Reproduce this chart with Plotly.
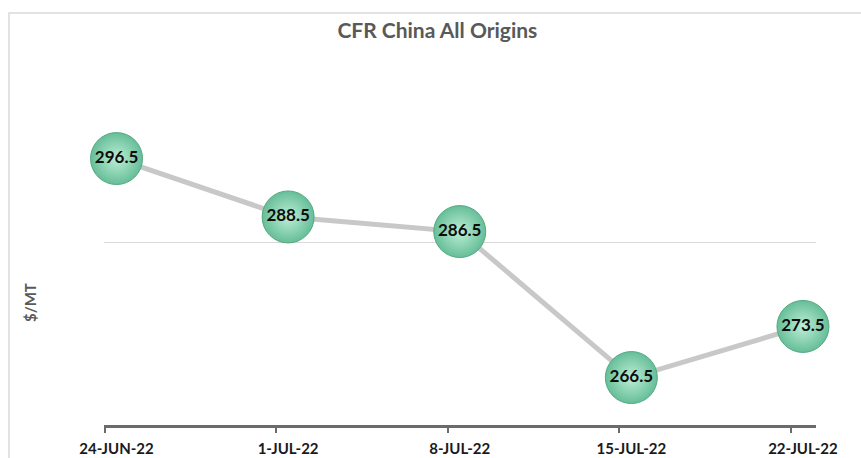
import plotly.graph_objects as go

# Weekly CFR China price (all origins), $/MT
dates = ["24-JUN-22", "1-JUL-22", "8-JUL-22", "15-JUL-22", "22-JUL-22"]
prices = [296.5, 288.5, 286.5, 266.5, 273.5]

y_range = [260, 310]
grid_values = [285]

positions = list(range(len(dates)))
tick_offset = 0.07  # ticks sit slightly left of each category

fig = go.Figure()

fig.add_trace(go.Scatter(
    x=positions,
    y=prices,
    mode="lines+markers+text",
    text=[f"{p:.1f}" for p in prices],
    textposition="middle center",
    textfont=dict(family="Lato", size=17, color="#0d0d0d", weight="bold"),
    line=dict(color="#c8c8c8", width=5),
    marker=dict(
        size=52,
        color="#66be98",
        gradient=dict(type="radial", color="#bdeed7"),
        line=dict(color="#55a884", width=1),
    ),
    cliponaxis=False,
    hoverinfo="skip",
    showlegend=False,
))

fig.update_layout(
    width=861,
    height=458,
    margin=dict(l=104, r=45, t=60, b=33),
    paper_bgcolor="white",
    plot_bgcolor="white",
    title=dict(
        text="CFR China All Origins",
        x=0.508, xanchor="center",
        y=0.932, yanchor="middle",
        font=dict(family="Lato", size=21, color="#595959", weight="bold"),
    ),
    xaxis=dict(
        range=[-0.073, 4.076],
        tickmode="array",
        tickvals=[p - tick_offset for p in positions],
        ticktext=dates,
        ticklabelshift=12,
        ticklabelstandoff=3,
        ticks="outside",
        ticklen=5,
        tickwidth=2,
        tickcolor="#6b6b6b",
        showline=True,
        linecolor="#6b6b6b",
        linewidth=2.5,
        showgrid=False,
        zeroline=False,
        automargin=False,
        tickfont=dict(family="Lato", size=15, color="#1a1a1a", weight="bold"),
    ),
    yaxis=dict(
        range=y_range,
        tickmode="array",
        tickvals=grid_values,
        showticklabels=False,
        showgrid=True,
        gridcolor="#d9d9d9",
        gridwidth=1,
        zeroline=False,
        showline=False,
        automargin=False,
    ),
    annotations=[dict(
        text="$/MT",
        xref="paper", yref="paper",
        x=(30 - 104) / 712, y=(425 - 303) / 365,
        xanchor="center", yanchor="middle",
        textangle=-90,
        showarrow=False,
        font=dict(family="Lato", size=15, color="#595959", weight="bold"),
    )],
    shapes=[dict(
        type="rect",
        xref="paper", yref="paper",
        x0=(9 - 104) / 712, x1=1.2,
        y0=-0.3, y1=(425 - 13) / 365,
        line=dict(color="#d9d9d9", width=1.5),
        fillcolor="rgba(0,0,0,0)",
        layer="below",
    )],
)

fig.write_html("out.html")
